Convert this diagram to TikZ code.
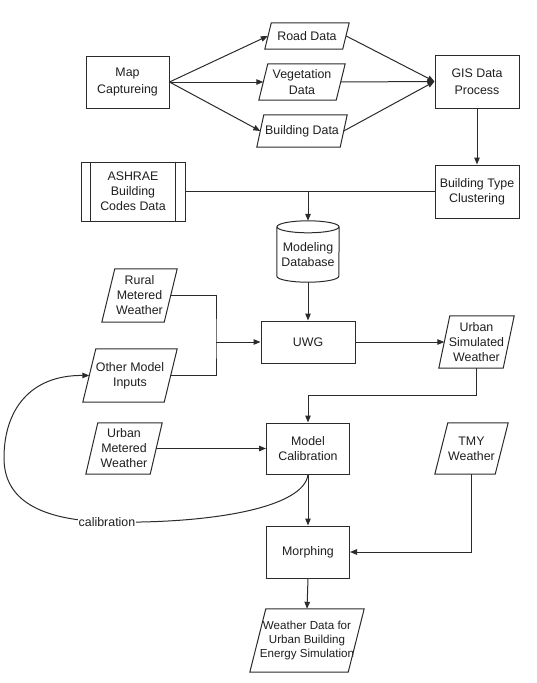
\documentclass[tikz,border=0pt]{standalone}
\usepackage{fontspec}
\setmainfont{Liberation Sans}
\usetikzlibrary{arrows.meta,calc}
\definecolor{ln}{HTML}{2B2B2B}
\definecolor{txt}{HTML}{1E1E1E}
\newcommand\drawpara[2]{\draw[conn] ([xshift=#2]#1.north west) -- (#1.north east) -- ([xshift=-#2]#1.south east) -- (#1.south west) -- cycle;}
\begin{document}
\begin{tikzpicture}[x=1pt,y=-1pt,
  every node/.style={font=\fontsize{12.4}{15}\selectfont, text=txt, align=center},
  box/.style={draw=ln, line width=1pt, inner sep=0pt},
  pnode/.style={inner sep=0pt},
  conn/.style={draw=ln, line width=1pt},
  arrow/.style={conn, -{Triangle[length=7pt,width=5.5pt]}}]
\useasboundingbox (0,0) rectangle (537,683);

% top row
\node[box, minimum width=83pt, minimum height=52pt, font=\fontsize{12.4}{16.5}\selectfont] (map) at (127.5,82) {Map\\Captureing};
\node[pnode, minimum width=84pt, minimum height=26pt] (road) at (307,36) {Road Data};
\drawpara{road}{6.5pt}
\node[pnode, minimum width=86pt, minimum height=36pt, font=\fontsize{12.4}{16.5}\selectfont] (veg) at (302,82) {Vegetation\\Data};
\drawpara{veg}{9pt}
\node[pnode, minimum width=90pt, minimum height=32pt] (bld) at (302,131) {Building Data};
\drawpara{bld}{7pt}
\node[box, minimum width=84pt, minimum height=53pt, font=\fontsize{12.4}{16.5}\selectfont] (gis) at (477,81.5) {GIS Data\\Process};
\node[box, minimum width=84pt, minimum height=53pt] (btc) at (477,191.5) {Building Type\\Clustering};
\node[box, minimum width=104pt, minimum height=59pt] (ashrae) at (133,191.5) {ASHRAE\\Building\\Codes Data};
\draw[conn] ([xshift=10pt]ashrae.north west) -- ([xshift=10pt]ashrae.south west);
\draw[conn] ([xshift=-10pt]ashrae.north east) -- ([xshift=-10pt]ashrae.south east);

% database cylinder
\node[minimum width=62pt, minimum height=61pt, inner sep=0pt,
  label={[yshift=-3pt]center:Modeling\\Database}] (db) at (308,251.5) {};
\draw[conn] ([yshift=-6pt]db.north) ellipse [x radius=31pt, y radius=6pt];
\draw[conn] ([yshift=-6pt]db.north west) -- ([yshift=6pt]db.south west)
  arc[start angle=180, end angle=360, x radius=31pt, y radius=6pt]
  -- ([yshift=-6pt]db.north east);

% middle
\node[box, minimum width=94pt, minimum height=42pt] (uwg) at (308,342) {UWG};
\node[pnode, minimum width=75pt, minimum height=53pt] (rural) at (139.5,295.5) {Rural\\Metered\\Weather};
\drawpara{rural}{13pt}
\node[pnode, minimum width=94pt, minimum height=53pt] (other) at (130,375.5) {Other Model\\Inputs};
\drawpara{other}{13pt}
\node[pnode, minimum width=75pt, minimum height=52pt] (usim) at (476.5,342) {Urban\\Simulated\\Weather};
\drawpara{usim}{11pt}

% lower
\node[pnode, minimum width=76pt, minimum height=51pt] (umet) at (124,448.5) {Urban\\Metered\\Weather};
\drawpara{umet}{12pt}
\node[box, minimum width=83pt, minimum height=51pt] (mc) at (308,448.5) {Model\\Calibration};
\node[pnode, minimum width=73pt, minimum height=51pt] (tmy) at (471.5,448.5) {TMY\\Weather};
\drawpara{tmy}{13pt}
\node[box, minimum width=83pt, minimum height=52pt] (morph) at (308,552) {Morphing};
\node[pnode, minimum width=114pt, minimum height=63pt, font=\fontsize{11.6}{14}\selectfont] (wd) at (307,640.5) {Weather Data for\\Urban Building\\Energy Simulation};
\drawpara{wd}{16pt}

% connectors
\draw[arrow] (map.east) -- ([xshift=3pt]road.west);
\draw[arrow] (map.east) -- ([xshift=4.5pt]veg.west);
\draw[arrow] (map.east) -- ([xshift=3.5pt]bld.west);
\draw[arrow] ([xshift=-3pt]road.east) -- (gis.west);
\draw[arrow] ([xshift=-4.5pt]veg.east) -- (gis.west);
\draw[arrow] ([xshift=-3.5pt]bld.east) -- (gis.west);
\draw[arrow] (gis.south) -- (btc.north);
\draw[conn] (ashrae.east) -- (btc.west);
\coordinate (split) at (ashrae.east -| db.north);
\draw[arrow] (split) -- (db.north);
\draw[arrow] (db.south) -- (uwg.north);
\coordinate (jn) at (216,342);
\draw[conn] ([xshift=-6.5pt]rural.east) -| (jn) |- ([xshift=-6.5pt]other.east);
\draw[arrow] (jn) -- (uwg.west);
\draw[arrow] (uwg.east) -- ([xshift=5.5pt]usim.west);
\coordinate (bend) at (477,395);
\draw[arrow] (usim.south) |- (bend -| mc.north) -- (mc.north);
\draw[arrow] ([xshift=-6pt]umet.east) -- (mc.west);
\draw[arrow] (mc.south) -- (morph.north);
\draw[arrow] (tmy.south) |- (morph.east);
\draw[arrow] (morph.south) -- (wd.north);
\draw[arrow] (mc.south) .. controls (304,508) and (210,524) .. (107,522)
  node[fill=white, inner sep=1pt] (cal) {calibration}
  .. controls (40,520) and (4,500) .. (4,458)
  .. controls (4,410) and (30,375) .. ([xshift=6.5pt]other.west);
\end{tikzpicture}
\end{document}
